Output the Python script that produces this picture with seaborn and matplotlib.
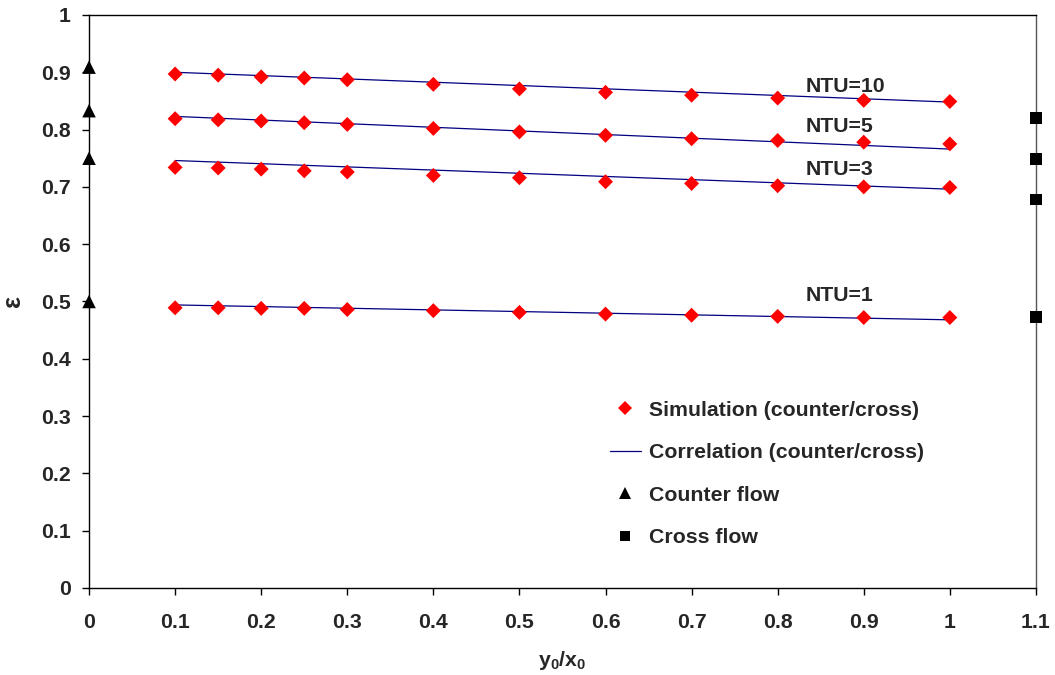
import matplotlib
matplotlib.use("Agg")
import matplotlib.pyplot as plt
import seaborn as sns
import pandas as pd
from matplotlib.lines import Line2D

# ---------------- data ----------------
ntu_levels = ["NTU=10", "NTU=5", "NTU=3", "NTU=1"]
sim_x = [0.1, 0.15, 0.2, 0.25, 0.3, 0.4, 0.5, 0.6, 0.7, 0.8, 0.9, 1.0]
sim_ntu10 = [0.897, 0.895, 0.892, 0.890, 0.887, 0.879, 0.871, 0.865, 0.860, 0.855, 0.851, 0.849]
sim_ntu5 = [0.819, 0.817, 0.815, 0.812, 0.809, 0.802, 0.796, 0.790, 0.784, 0.781, 0.778, 0.775]
sim_ntu3 = [0.734, 0.733, 0.731, 0.728, 0.726, 0.720, 0.716, 0.709, 0.706, 0.702, 0.700, 0.699]
sim_ntu1 = [0.489, 0.489, 0.488, 0.488, 0.486, 0.484, 0.481, 0.478, 0.476, 0.474, 0.472, 0.472]

corr_x = [0.1, 1.0]
corr_ntu10 = [0.900, 0.848]
corr_ntu5 = [0.823, 0.766]
corr_ntu3 = [0.746, 0.696]
corr_ntu1 = [0.494, 0.468]

counter_x = [0.0, 0.0, 0.0, 0.0]
counter_eps = [0.909, 0.833, 0.750, 0.500]
cross_x = [1.1, 1.1, 1.1, 1.1]
cross_eps = [0.820, 0.748, 0.678, 0.473]

label_x = [0.833, 0.833, 0.833, 0.833]
label_y = [0.876, 0.805, 0.731, 0.510]

x_ticks = [0, 0.1, 0.2, 0.3, 0.4, 0.5, 0.6, 0.7, 0.8, 0.9, 1, 1.1]
x_ticklabels = ["0", "0.1", "0.2", "0.3", "0.4", "0.5", "0.6", "0.7", "0.8", "0.9", "1", "1.1"]
y_ticks = [0, 0.1, 0.2, 0.3, 0.4, 0.5, 0.6, 0.7, 0.8, 0.9, 1]
y_ticklabels = ["0", "0.1", "0.2", "0.3", "0.4", "0.5", "0.6", "0.7", "0.8", "0.9", "1"]

legend_labels = ["Simulation (counter/cross)", "Correlation (counter/cross)",
                 "Counter flow", "Cross flow"]

# ---------------- tables ----------------
sim_vals = [sim_ntu10, sim_ntu5, sim_ntu3, sim_ntu1]
corr_vals = [corr_ntu10, corr_ntu5, corr_ntu3, corr_ntu1]
sim_df = pd.DataFrame([(x, v, n) for n, vals in zip(ntu_levels, sim_vals)
                       for x, v in zip(sim_x, vals)], columns=["x", "eps", "ntu"])
corr_df = pd.DataFrame([(x, v, n) for n, vals in zip(ntu_levels, corr_vals)
                        for x, v in zip(corr_x, vals)], columns=["x", "eps", "ntu"])
counter_df = pd.DataFrame({"x": counter_x, "eps": counter_eps})
cross_df = pd.DataFrame({"x": cross_x, "eps": cross_eps})

# ---------------- style ----------------
sns.set_theme(style="white")
plt.rcParams["font.family"] = ["Liberation Sans", "DejaVu Sans"]
plt.rcParams["font.weight"] = "bold"
plt.rcParams["mathtext.fontset"] = "custom"
plt.rcParams["mathtext.rm"] = "Liberation Sans"
plt.rcParams["mathtext.bf"] = "Liberation Sans:bold"

fig = plt.figure(figsize=(10.55, 6.75), dpi=100)
ax = fig.add_axes([0.0844, 0.1289, 0.8975, 0.8489])

fs = 15.3
navy = "#000080"

sns.lineplot(data=corr_df, x="x", y="eps", units="ntu", estimator=None,
             color=navy, linewidth=0.9, ax=ax, legend=False, zorder=2)
sns.scatterplot(data=sim_df, x="x", y="eps", marker="D", s=58, color="red",
                edgecolor="none", ax=ax, legend=False, zorder=3)
sns.scatterplot(data=counter_df, x="x", y="eps", marker="^", s=95, color="black",
                edgecolor="none", ax=ax, legend=False, zorder=4, clip_on=False)
sns.scatterplot(data=cross_df, x="x", y="eps", marker="s", s=72, color="black",
                edgecolor="none", ax=ax, legend=False, zorder=4, clip_on=False)

for lx, ly, t in zip(label_x, label_y, ntu_levels):
    ax.text(lx, ly, t, fontsize=fs, fontweight="bold", ha="left", va="center")

ax.set_xlim(0, 1.1)
ax.set_ylim(0, 1)
ax.set_xticks(x_ticks)
ax.set_xticklabels(x_ticklabels)
ax.set_yticks(y_ticks)
ax.set_yticklabels(y_ticklabels)
ax.tick_params(axis="both", direction="out", length=5, width=1, color="black",
               labelsize=fs, bottom=True, left=True, top=False, right=False)
ax.tick_params(axis="x", pad=13)
ax.tick_params(axis="y", pad=8)
for lab in ax.get_xticklabels() + ax.get_yticklabels():
    lab.set_fontweight("bold")

for side in ["left", "bottom", "top"]:
    ax.spines[side].set_color("black")
    ax.spines[side].set_linewidth(1.0)
ax.spines["right"].set_color("#555555")
ax.spines["right"].set_linewidth(1.0)

ax.set_xlabel(r"$\mathbf{y_0/x_0}$", fontsize=fs, labelpad=12)
ax.set_ylabel("ε", fontsize=18, fontweight="bold", labelpad=12)

handles = [
    Line2D([], [], marker="D", markersize=7, color="red", linestyle="none", markeredgewidth=0),
    Line2D([], [], color=navy, linewidth=0.9),
    Line2D([], [], marker="^", markersize=9, color="black", linestyle="none", markeredgewidth=0),
    Line2D([], [], marker="s", markersize=7.5, color="black", linestyle="none", markeredgewidth=0),
]
leg = ax.legend(handles, legend_labels, loc="center left", bbox_to_anchor=(0.550, 0.199),
                frameon=False, fontsize=fs, handlelength=1.45, handletextpad=0.4,
                labelspacing=1.1, borderaxespad=0, borderpad=0)
for t in leg.get_texts():
    t.set_fontweight("bold")

fig.savefig("out.png", dpi=100)
